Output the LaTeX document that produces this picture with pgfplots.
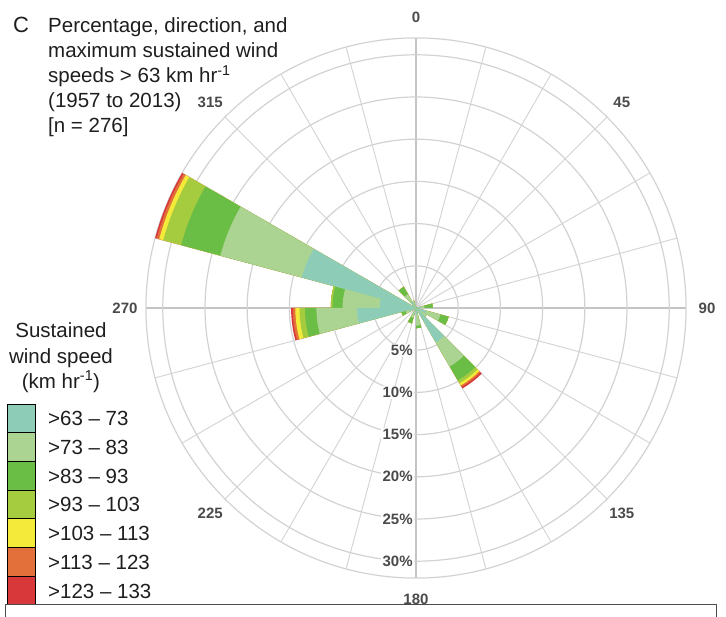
\documentclass[border=0pt]{standalone}
\usepackage{pgfplots}
\pgfplotsset{compat=1.18}
\usepackage{pgfplotstable}
\usepackage{fontspec}
\setmainfont{Liberation Sans}

% speed-class colours
\definecolor{ws1}{HTML}{8DCDB7}
\definecolor{ws2}{HTML}{ABD493}
\definecolor{ws3}{HTML}{6ABD45}
\definecolor{ws4}{HTML}{A5CB3F}
\definecolor{ws5}{HTML}{F4EA3A}
\definecolor{ws6}{HTML}{E3703A}
\definecolor{ws7}{HTML}{D8383A}
\definecolor{gridgray}{HTML}{D2D2D2}
\definecolor{axisgray}{HTML}{C4C4C4}
\definecolor{labelgray}{HTML}{4A4A4A}
\definecolor{txt}{HTML}{1E1E1E}

% bp of radius per percent of observations
\newcommand\rosescale{8.44}

% cumulative percentage reached by each speed class, per 15-degree sector (centre bearing)
\pgfplotstableread{
dir    c1    c2    c3     c4    c5    c6    c7
82.5   0.6   1.0   2.0    2.0   2.0   2.0   2.0
112.5  1.2   3.0   4.0    4.0   4.0   4.0   4.0
127.5  0.6   1.5   1.5    1.5   1.5   1.5   1.5
142.5  4.7   8.0   9.9    10.3  10.6  10.8  11.0
172.5  0.8   2.1   2.4    2.4   2.4   2.4   2.4
202.5  0.7   1.2   1.9    1.9   1.9   1.9   1.9
247.5  0.8   1.3   1.8    1.8   1.8   1.8   1.8
262.5  7.0   11.8  13.15  13.8  14.3  14.6  14.8
277.5  4.3   8.7   9.9    10.1  10.1  10.1  10.1
292.5  14.0  24.0  28.8   31.0  31.5  31.8  32.0
322.5  0.9   1.9   2.9    2.9   2.9   2.9   2.9
337.5  0.4   0.9   0.9    0.9   0.9   0.9   0.9
}\windrose

% a 15-degree wedge from the rose centre out to the given radius
\pgfdeclareplotmark{sector}{%
  \pgfmathsetmacro\secA{90-\secdir+7.5}%
  \pgfmathsetmacro\secB{90-\secdir-7.5}%
  \pgfmathsetmacro\secR{\secrad*\rosescale}%
  \pgfpathmoveto{\pgfpointorigin}%
  \pgfpathlineto{\pgfpointpolar{\secA}{\secR bp}}%
  \pgfpatharc{\secA}{\secB}{\secR bp}%
  \pgfpathclose
  \pgfusepathqfill
}

\pgfplotsset{
  rose class/.style 2 args={
    scatter, only marks, mark=sector,
    point meta={\thisrow{dir}},
    visualization depends on={\thisrow{dir} \as \secdir},
    visualization depends on={\thisrow{#1} \as \secrad},
    scatter/@pre marker code/.code={\pgfsetfillcolor{#2}},
    scatter/@post marker code/.code={},
  },
}

\newcommand\tfont{\fontsize{20.5bp}{25bp}\selectfont}
\newcommand\lfont{\fontsize{15bp}{18bp}\selectfont\bfseries}

\begin{document}
\begin{tikzpicture}
\useasboundingbox (-416bp,-309bp) rectangle (310bp,308bp);

% rings and spokes
\foreach \a in {0,15,...,345}
  \draw[gridgray, line width=0.9bp] (0,0) -- ({90-\a}:{32*\rosescale bp});
\foreach \a in {0,90,180,270}
  \draw[axisgray, line width=1.3bp] (0,0) -- ({90-\a}:{32*\rosescale bp});
\foreach \r in {5,10,...,30}
  \draw[gridgray, line width=1.2bp] (0,0) circle[radius={\r*\rosescale bp}];
\draw[gridgray, line width=1.2bp] (0,0) circle[radius={32*\rosescale bp}];

\begin{axis}[
  anchor=origin, at={(0,0)},
  x=\rosescale bp, y=\rosescale bp,
  xmin=-49.29, xmax=36.73, ymin=-36.61, ymax=36.49,
  hide axis, clip=false,
]
\addplot[rose class={c7}{ws7}] table[x expr=0, y expr=0] {\windrose};
\addplot[rose class={c6}{ws6}] table[x expr=0, y expr=0] {\windrose};
\addplot[rose class={c5}{ws5}] table[x expr=0, y expr=0] {\windrose};
\addplot[rose class={c4}{ws4}] table[x expr=0, y expr=0] {\windrose};
\addplot[rose class={c3}{ws3}] table[x expr=0, y expr=0] {\windrose};
\addplot[rose class={c2}{ws2}] table[x expr=0, y expr=0] {\windrose};
\addplot[rose class={c1}{ws1}] table[x expr=0, y expr=0] {\windrose};
\end{axis}

% bearings
\foreach \a in {0,45,90,135,180,225,270,315}
  \node[font=\lfont, text=labelgray, inner sep=0pt] at ({90-\a}:291bp) {\a};

% ring percentages
\foreach \p in {5,10,...,30}
  \node[font=\lfont, text=labelgray, anchor=east, fill=white, inner sep=1.2bp]
    at (-2bp, {-\p*\rosescale bp}) {\p\%};

% heading
\node[font=\fontsize{22bp}{26bp}\selectfont, text=txt, anchor=base west, inner sep=0pt] at (-403bp,275bp) {C};
\begin{scope}[every node/.style={font=\tfont, text=txt, anchor=base west, inner sep=0pt}]
\node at (-368bp,275bp) {Percentage, direction, and};
\node at (-368bp,250bp) {maximum sustained wind};
\node at (-368bp,225bp) {speeds > 63 km hr\textsuperscript{-1}};
\node at (-368bp,200bp) {(1957 to 2013)};
\node at (-368bp,175bp) {[n = 276]};
\end{scope}

% key
\begin{scope}[every node/.style={font=\tfont, text=txt, anchor=base, inner sep=0pt}]
\node at (-355bp,-29bp) {Sustained};
\node at (-355bp,-55bp) {wind speed};
\node at (-355bp,-80bp) {(km hr\textsuperscript{-1})};
\end{scope}
\foreach \c/\t [count=\i from 0] in {ws1/>63 -- 73, ws2/>73 -- 83, ws3/>83 -- 93, ws4/>93 -- 103,
                                     ws5/>103 -- 113, ws6/>113 -- 123, ws7/>123 -- 133} {
  \filldraw[fill=\c, draw=black, line width=0.9bp]
    (-409bp,{-96bp-\i*28.7bp}) rectangle (-381bp,{-96bp-(\i+1)*28.7bp});
  \node[font=\tfont, text=txt, anchor=base west, inner sep=0pt]
    at (-368bp,{-96bp-(\i+0.5)*28.7bp-7.5bp}) {\t};
}

% frame of the panel below
\draw[black!70, line width=0.8bp] (-411bp,-309bp) -- (-411bp,-296bp) -- (300bp,-296bp) -- (300bp,-309bp);
\end{tikzpicture}
\end{document}
